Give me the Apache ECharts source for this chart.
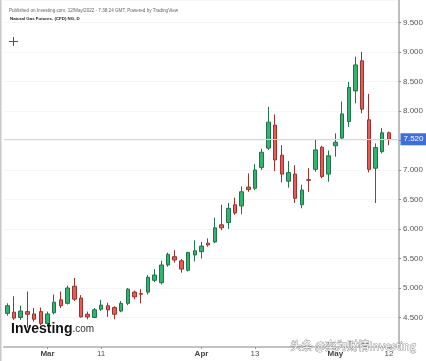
<!DOCTYPE html>
<html><head><meta charset="utf-8">
<script src="https://cdn.jsdelivr.net/npm/echarts@6/dist/echarts.min.js"></script>
<style>html,body{margin:0;padding:0;background:#fff}#c{width:426px;height:361px}</style>
</head><body><div id="c"></div>
<script>
const dates = ['2022-02-21','2022-02-22','2022-02-23','2022-02-24','2022-02-25','2022-02-28',
'2022-03-01','2022-03-02','2022-03-03','2022-03-04','2022-03-07','2022-03-08','2022-03-09','2022-03-10','2022-03-11',
'2022-03-14','2022-03-15','2022-03-16','2022-03-17','2022-03-18','2022-03-21','2022-03-22','2022-03-23','2022-03-24','2022-03-25',
'2022-03-28','2022-03-29','2022-03-30','2022-03-31','2022-04-01','2022-04-04','2022-04-05','2022-04-06','2022-04-07','2022-04-08',
'2022-04-11','2022-04-12','2022-04-13','2022-04-14','2022-04-18','2022-04-19','2022-04-20','2022-04-21','2022-04-22',
'2022-04-25','2022-04-26','2022-04-27','2022-04-28','2022-04-29','2022-05-02','2022-05-03','2022-05-04','2022-05-05','2022-05-06',
'2022-05-09','2022-05-10','2022-05-11','2022-05-12'];
const opens  = [4.57,4.59,4.50,4.60,4.56,4.60, 4.40,4.58,4.80,4.74,5.03,4.83,4.555,4.50,4.64, 4.70,4.67,4.61,4.74,4.93,4.905,4.93,5.13,5.09,5.39, 5.53,5.46,5.30,5.56,5.615,5.76,5.78,6.07,6.11,6.41, 6.39,6.71,6.69,7.04,7.37,7.76,7.25,6.81,6.93, 6.41,6.835,7.01,7.385,6.93,7.41,7.54,7.82,8.34,8.85, 7.85,7.03,7.31,7.63];
const closes = [4.70,4.49,4.61,4.555,4.47,4.40, 4.56,4.76,4.70,5.00,4.81,4.51,4.51,4.63,4.71, 4.63,4.555,4.74,4.98,4.85,4.895,5.18,5.22,5.39,5.57, 5.475,5.32,5.60,5.63,5.71,5.73,6.02,6.02,6.35,6.27, 6.63,6.67,7.00,7.30,7.81,7.17,6.93,6.955,6.52, 6.66,6.825,7.34,6.89,7.24,7.47,7.95,8.40,8.78,8.03, 7.01,7.38,7.63,7.52];
const lows   = [4.53,4.46,4.46,4.33,4.43,4.37, 4.37,4.555,4.66,4.72,4.78,4.50,4.47,4.49,4.61, 4.51,4.47,4.59,4.71,4.81,4.74,4.89,5.10,5.06,5.36, 5.43,5.26,5.28,5.45,5.50,5.70,5.76,5.98,6.00,6.24, 6.25,6.63,6.66,7.00,7.34,6.98,6.79,6.70,6.44, 6.35,6.63,6.97,6.86,6.80,7.225,7.52,7.73,8.13,7.96, 6.96,6.44,7.28,7.42];
const highs  = [4.74,4.86,4.70,4.94,4.66,4.67, 4.60,4.89,4.94,5.04,5.17,4.88,4.60,4.66,4.80, 4.75,4.69,4.78,5.00,4.955,4.98,5.22,5.32,5.46,5.60, 5.64,5.49,5.615,5.81,5.78,5.84,6.19,6.41,6.44,6.53, 6.72,6.94,7.10,7.36,8.07,7.94,7.42,7.15,7.08, 6.75,7.03,7.52,7.41,7.33,7.62,8.16,8.49,8.92,9.00, 8.29,7.45,7.71,7.65];
const tickDates  = ['2022-03-01','2022-03-11','2022-04-01','2022-04-13','2022-05-02','2022-05-12'];
const tickLabels = ['Mar','11','Apr','13','May','12'];
const monthLabels = ['Mar','Apr','May'];
const lastPrice = closes[closes.length - 1];

const categories = dates.concat(['']);
const candles = dates.map((d, i) => [opens[i], closes[i], lows[i], highs[i]]);

const chart = echarts.init(document.getElementById('c'), null, {renderer: 'canvas'});
const FONT = '"Liberation Sans", Arial, sans-serif';
chart.setOption({
  animation: false,
  backgroundColor: '#ffffff',
  title: [
    {text: 'Published on Investing.com, 12/May/2022 - 7:38:24 GMT, Powered by TradingView', left: 4, top: 3,
     textStyle: {fontSize: 4.6, fontWeight: 'normal', color: '#666', fontFamily: FONT}},
    {text: 'Natural Gas Futures, (CFD) NG, D', left: 5, top: 11.5,
     textStyle: {fontSize: 4.4, fontWeight: 'bold', color: '#222', fontFamily: FONT}}
  ],
  grid: {left: 4, right: 26.5, top: 0, bottom: 14},
  xAxis: {
    type: 'category', data: categories, boundaryGap: true,
    axisLine: {lineStyle: {color: '#c2c2c2', width: 2}},
    axisTick: {show: true, length: 2, alignWithLabel: true, lineStyle: {color: '#999'},
      interval: (idx, v) => tickDates.indexOf(v) >= 0},
    axisLabel: {
      interval: (idx, v) => tickDates.indexOf(v) >= 0,
      margin: 3, fontSize: 8, color: '#555', fontFamily: FONT,
      formatter: v => {
        const k = tickDates.indexOf(v);
        if (k < 0) return '';
        const t = tickLabels[k];
        return monthLabels.indexOf(t) >= 0 ? '{b|' + t + '}' : t;
      },
      rich: {b: {fontWeight: 'bold', fontSize: 8, color: '#444', fontFamily: FONT}}
    },
    splitLine: {show: false}
  },
  yAxis: {
    type: 'value', position: 'right', min: 4.0, max: 9.88, interval: 0.5, scale: true,
    axisLine: {show: true, lineStyle: {color: '#bdbdbd', width: 2}},
    axisTick: {show: true, length: 2, lineStyle: {color: '#888'}},
    axisLabel: {fontSize: 8, color: '#555', margin: 4, fontFamily: FONT,
      showMinLabel: false, showMaxLabel: false,
      formatter: v => v.toFixed(3)},
    splitLine: {show: true, lineStyle: {color: '#f6f6f6', width: 1}}
  },
  series: [{
    type: 'candlestick',
    data: candles,
    barWidth: 4,
    itemStyle: {
      color: '#30b46e', borderColor: '#22734a',
      color0: '#e95b56', borderColor0: '#97342f', borderWidth: 1
    },
    markLine: {
      silent: true, symbol: ['none', 'none'], z: 10,
      lineStyle: {color: '#d6d6d6', type: 'solid', width: 1},
      label: {show: true, position: 'end', distance: 1.5,
        formatter: () => lastPrice.toFixed(3),
        backgroundColor: '#3b6fe0', color: '#fff', fontSize: 8, fontFamily: FONT,
        padding: [2, 3, 2, 3]},
      data: [{yAxis: lastPrice}]
    }
  }],
  graphic: [
    {type: 'line', shape: {x1: 0.75, y1: 0, x2: 0.75, y2: 361}, style: {stroke: '#c8c8c8', lineWidth: 1.5}},
    {type: 'line', shape: {x1: 9, y1: 41.5, x2: 18, y2: 41.5}, style: {stroke: '#555', lineWidth: 1}},
    {type: 'line', shape: {x1: 13.5, y1: 37, x2: 13.5, y2: 46}, style: {stroke: '#555', lineWidth: 1}},
    {type: 'text', left: 11, top: 322, z: 5,
     style: {text: '{a|Investing}{c|.com}', rich: {
       a: {fontSize: 14, fontWeight: 'bold', fill: '#111', fontFamily: FONT},
       c: {fontSize: 10, fill: '#333', fontFamily: FONT}}}},
    {type: 'text', left: 290, top: 340, z: 20,
     style: {text: '头条 @奕为财情Investing', fontSize: 11, fontFamily: '"Noto Sans CJK SC", sans-serif',
       fill: '#ffffff', stroke: '#8a8a8a', lineWidth: 0.8}}
  ]
});
</script>
</body></html>
